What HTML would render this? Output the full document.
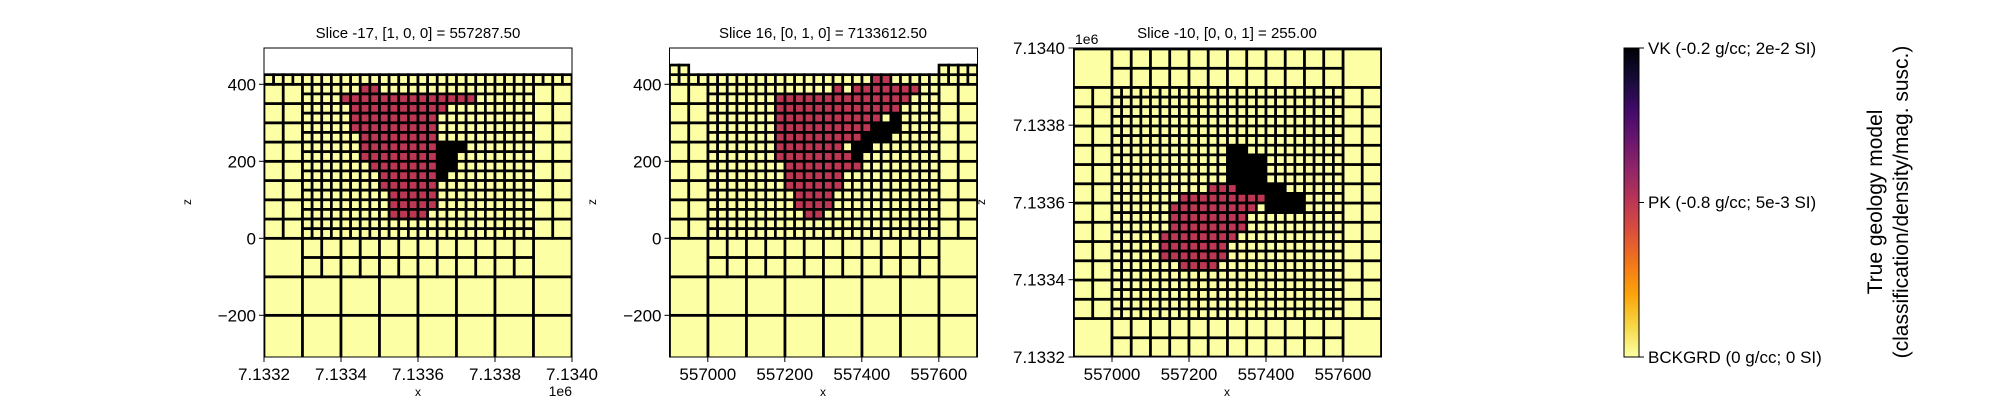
<!DOCTYPE html>
<html><head><meta charset="utf-8">
<style>
html,body{margin:0;padding:0;background:#fff;width:2000px;height:400px;overflow:hidden;}
svg{display:block;font-family:"Liberation Sans","DejaVu Sans",sans-serif;}
</style></head>
<body>
<svg id="s" width="2000" height="400" xmlns="http://www.w3.org/2000/svg">
<defs>
<clipPath id="c1"><rect x="264" y="48" width="308" height="309"/></clipPath>
<clipPath id="c2"><rect x="669.5" y="48" width="308" height="309"/></clipPath>
<clipPath id="c3"><rect x="1073.5" y="48" width="308" height="309"/></clipPath>
<linearGradient id="cb" x1="0" y1="0" x2="0" y2="1">
<stop offset="0" stop-color="#000004"/><stop offset="0.1" stop-color="#160b39"/>
<stop offset="0.2" stop-color="#420a68"/><stop offset="0.3" stop-color="#6a176e"/>
<stop offset="0.4" stop-color="#932667"/><stop offset="0.5" stop-color="#bc3754"/>
<stop offset="0.6" stop-color="#dd513a"/><stop offset="0.7" stop-color="#f37819"/>
<stop offset="0.8" stop-color="#fca50a"/><stop offset="0.9" stop-color="#f6d746"/>
<stop offset="1" stop-color="#fcffa4"/></linearGradient>
</defs>
<g id="g1" clip-path="url(#c1)"></g>
<g id="g2" clip-path="url(#c2)"></g>
<g id="g3" clip-path="url(#c3)"></g>
<g fill="none" stroke="#000" stroke-width="1">
<rect x="264" y="48" width="308" height="309"/>
<rect x="669.5" y="48" width="308" height="309"/>
<rect x="1073.5" y="48" width="308" height="309"/>
<rect x="1624" y="48" width="15" height="309" fill="url(#cb)"/>
</g>
<g id="ticks" stroke="#000" stroke-width="1"></g>
<g font-size="15" text-anchor="middle" fill="#000">
<text x="418" y="38">Slice -17, [1, 0, 0] = 557287.50</text>
<text x="823" y="38">Slice 16, [0, 1, 0] = 7133612.50</text>
<text x="1227" y="38">Slice -10, [0, 0, 1] = 255.00</text>
</g>
<g font-size="12" text-anchor="middle">
<text x="418" y="396">x</text><text x="823" y="396">x</text><text x="1227" y="396">x</text>
<text x="0" y="0" transform="translate(191,202) rotate(-90)">z</text>
<text x="0" y="0" transform="translate(596,202) rotate(-90)">z</text>
<text x="0" y="0" transform="translate(985,202) rotate(-90)">z</text>
</g>
<g font-size="14"><text x="572" y="396" text-anchor="end">1e6</text><text x="1075" y="44">1e6</text></g>
<g id="lbl" font-size="17"></g>
<g font-size="17">
<text x="1648" y="54">VK (-0.2 g/cc; 2e-2 SI)</text>
<text x="1648" y="208">PK (-0.8 g/cc; 5e-3 SI)</text>
<text x="1648" y="363">BCKGRD (0 g/cc; 0 SI)</text>
</g>
<g font-size="21" text-anchor="middle">
<text transform="translate(1882,202) rotate(-90)">True geology model</text>
<text transform="translate(1908,202) rotate(-90)">(classification/density/mag. susc.)</text>
</g>
</svg>
<script>
var NS="http://www.w3.org/2000/svg",Y="#fcffa4",R="#bc3754",K="#000000",S=0.385;
function el(p,t,a){var e=document.createElementNS(NS,t);for(var k in a)e.setAttribute(k,a[k]);p.appendChild(e);return e;}
function rc(g,x0,y0,w,h,c){el(g,"rect",{x:x0,y:y0,width:w,height:h,fill:c,stroke:"#000","stroke-width":2.7});}
function maskCol(m,r,c){var a=m[r];if(!a)return Y;for(var i=0;i<a.length;i++)if(c>=a[i][0]&&c<=a[i][1])return a[i][2];return Y;}
function side(gid,L,m,bumps){
 var g=document.getElementById(gid);
 var X=function(x){return L+x*S},Z=function(z){return 238.3-z*S};
 for(var x=0;x<800;x+=100)rc(g,X(x),Z(-200),100*S,112*S,Y);
 for(var x=0;x<800;x+=100)rc(g,X(x),Z(-100),100*S,100*S,Y);
 rc(g,X(0),Z(0),100*S,100*S,Y);rc(g,X(700),Z(0),100*S,100*S,Y);
 for(var x=100;x<700;x+=50){rc(g,X(x),Z(0),50*S,50*S,Y);rc(g,X(x),Z(-50),50*S,50*S,Y);}
 for(var z=0;z<400;z+=50){rc(g,X(0),Z(z+50),50*S,50*S,Y);rc(g,X(50),Z(z+50),50*S,50*S,Y);rc(g,X(700),Z(z+50),50*S,50*S,Y);rc(g,X(750),Z(z+50),50*S,50*S,Y);}
 for(var k=1;k<=16;k++){var zt=425-25*k;for(var c=0;c<24;c++)rc(g,X(100+25*c),Z(zt),25*S,25*S,maskCol(m,k,c));}
 for(var c=-4;c<28;c++)rc(g,X(100+25*c),Z(425),25*S,25*S,maskCol(m,0,c));
 bumps.forEach(function(b){for(var x=b[0];x<b[1];x+=25)rc(g,X(x),Z(450),25*S,25*S,Y);});
}
var m1={1:[[6,7,R]],2:[[4,17,R]],3:[[5,14,R]],4:[[5,13,R]],5:[[5,13,R]],6:[[6,13,R]],7:[[6,13,R],[14,16,K]],8:[[6,13,R],[14,15,K]],9:[[7,13,R],[14,15,K]],10:[[8,13,R],[14,14,K]],11:[[8,13,R]],12:[[9,13,R]],13:[[9,13,R]],14:[[9,12,R]]};
var m2={0:[[17,18,R]],1:[[13,13,R],[15,21,R]],2:[[7,20,R]],3:[[7,19,R]],4:[[7,17,R],[19,19,K]],5:[[7,16,R],[17,19,K]],6:[[7,15,R],[16,18,K]],7:[[7,13,R],[15,16,K]],8:[[7,14,R],[15,15,K]],9:[[8,15,R]],10:[[8,13,R]],11:[[8,13,R]],12:[[9,12,R]],13:[[9,12,R]],14:[[10,11,R]]};
side("g1",264,m1,[]);
side("g2",669.5,m2,[[0,50],[700,800]]);
(function(){
 var g=document.getElementById("g3"),L=1073.5;
 var X=function(x){return L+x*S},Yp=function(y){return 357-y*S};
 var m3={6:[[12,13,K]],7:[[12,15,K]],8:[[12,15,K]],9:[[12,15,K]],10:[[10,12,R],[13,17,K]],11:[[7,15,R],[16,19,K]],12:[[6,14,R],[16,19,K]],13:[[6,13,R]],14:[[6,13,R]],15:[[5,12,R]],16:[[5,11,R]],17:[[5,11,R]],18:[[7,10,R]]};
 [0,700].forEach(function(y0){rc(g,X(0),Yp(y0+100),100*S,100*S,Y);rc(g,X(700),Yp(y0+100),100*S,100*S,Y);
  for(var x=100;x<700;x+=50)for(var y=y0;y<y0+100;y+=50)rc(g,X(x),Yp(y+50),50*S,50*S,Y);});
 for(var y=100;y<700;y+=50)[0,50,700,750].forEach(function(x){rc(g,X(x),Yp(y+50),50*S,50*S,Y);});
 for(var k=0;k<24;k++)for(var c=0;c<24;c++)rc(g,X(100+25*c),Yp(700-25*k),25*S,25*S,maskCol(m3,k,c));
})();
var T=document.getElementById("ticks"),Lb=document.getElementById("lbl");
function tx(x,y,s,a){var t=el(Lb,"text",{x:x,y:y,"text-anchor":a});t.textContent=s;}
[[264,"7.1332"],[341,"7.1334"],[418,"7.1336"],[495,"7.1338"],[572,"7.1340"]].forEach(function(t){el(T,"line",{x1:t[0],y1:357,x2:t[0],y2:362});tx(t[0],380,t[1],"middle");});
[0,1].forEach(function(p){var L=p?669.5:264;
 [[84.3,"400"],[161.3,"200"],[238.3,"0"],[315.3,"\u2212200"]].forEach(function(t){el(T,"line",{x1:L-5,y1:t[0],x2:L,y2:t[0]});tx(L-8,t[0]+6,t[1],"end");});});
[[707.8,"557000"],[784.8,"557200"],[861.8,"557400"],[938.8,"557600"]].forEach(function(t){el(T,"line",{x1:t[0],y1:357,x2:t[0],y2:362});tx(t[0],380,t[1],"middle");});
[[1112,"557000"],[1189,"557200"],[1266,"557400"],[1343,"557600"]].forEach(function(t){el(T,"line",{x1:t[0],y1:357,x2:t[0],y2:362});tx(t[0],380,t[1],"middle");});
[[48,"7.1340"],[125.2,"7.1338"],[202.5,"7.1336"],[279.7,"7.1334"],[357,"7.1332"]].forEach(function(t){el(T,"line",{x1:1068.5,y1:t[0],x2:1073.5,y2:t[0]});tx(1065,t[0]+6,t[1],"end");});
[48,202.5,357].forEach(function(y){el(T,"line",{x1:1639,y1:y,x2:1644,y2:y});});
</script>
</body></html>
